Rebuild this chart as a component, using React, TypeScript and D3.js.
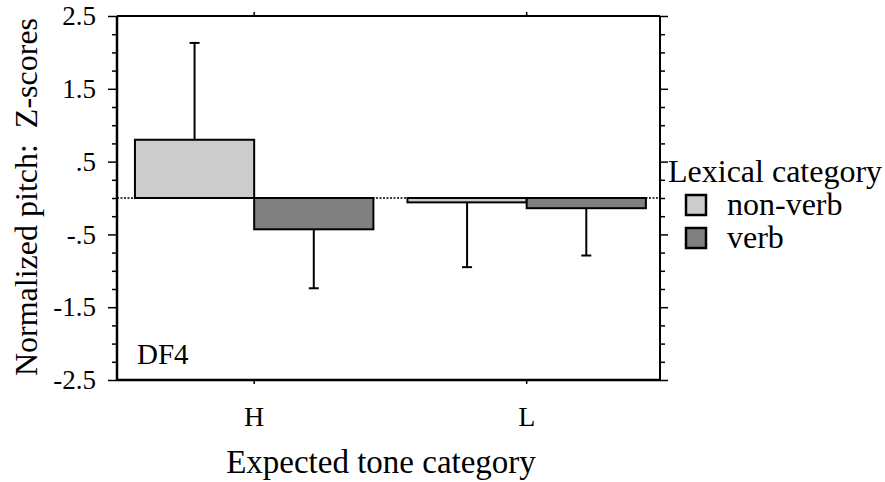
import { useEffect, useRef } from "react";
import * as d3 from "d3";

// chart data
const categories = ["H", "L"];
const seriesNames = ["non-verb", "verb"];
const nonVerbMeans = [0.8, -0.06];
const verbMeans = [-0.43, -0.14];
const nonVerbErr = [1.33, 0.89];
const verbErr = [0.81, 0.65];
const yTickLabels = ["2.5", "1.5", ".5", "-.5", "-1.5", "-2.5"];
const yTickValues = [2.5, 1.5, 0.5, -0.5, -1.5, -2.5];

const seriesColors = ["#cccccc", "#808080"];

const App = () => {
    const ref = useRef<SVGSVGElement | null>(null);

    useEffect(() => {
        const svg = d3.select(ref.current);
        svg.selectAll("*").remove();

        const margin = { top: 16, right: 225, bottom: 102, left: 117 };
        const graphWidth = 885;
        const graphHeight = 482;
        const width = graphWidth - margin.left - margin.right;
        const height = graphHeight - margin.top - margin.bottom;
        const font = "Liberation Serif, Times New Roman, serif";

        const g = svg.append("g").attr("transform", `translate(${margin.left},${margin.top})`);

        // scales
        const x = d3.scaleBand<string>()
            .domain(categories)
            .range([0, width])
            .paddingInner(0.125)
            .paddingOuter(0.0588)
            .align(0.56);

        const xInner = d3.scaleBand<string>()
            .domain(seriesNames)
            .range([0, x.bandwidth()])
            .padding(0);

        const y = d3.scaleLinear().domain([-2.5, 2.5]).range([height, 0]);

        const rows = categories.flatMap((c, i) => [
            { cat: c, series: seriesNames[0], mean: nonVerbMeans[i], err: nonVerbErr[i], color: seriesColors[0] },
            { cat: c, series: seriesNames[1], mean: verbMeans[i], err: verbErr[i], color: seriesColors[1] },
        ]);

        // bars
        g.selectAll(".bar")
            .data(rows)
            .enter().append("rect")
            .attr("class", "bar")
            .attr("x", d => (x(d.cat) as number) + (xInner(d.series) as number))
            .attr("y", d => y(Math.max(0, d.mean)))
            .attr("width", xInner.bandwidth())
            .attr("height", d => Math.abs(y(d.mean) - y(0)))
            .attr("fill", d => d.color)
            .attr("stroke", "#000")
            .attr("stroke-width", 2);

        // error bars (one-sided, away from zero)
        const errEnd = (d: any) => d.mean >= 0 ? d.mean + d.err : d.mean - d.err;
        const cx = (d: any) => (x(d.cat) as number) + (xInner(d.series) as number) + xInner.bandwidth() / 2;

        g.selectAll(".err")
            .data(rows)
            .enter().append("line")
            .attr("x1", cx)
            .attr("x2", cx)
            .attr("y1", d => y(d.mean))
            .attr("y2", d => y(errEnd(d)))
            .attr("stroke", "#000")
            .attr("stroke-width", 2);

        g.selectAll(".cap")
            .data(rows)
            .enter().append("line")
            .attr("x1", d => cx(d) - 5)
            .attr("x2", d => cx(d) + 5)
            .attr("y1", d => y(errEnd(d)))
            .attr("y2", d => y(errEnd(d)))
            .attr("stroke", "#000")
            .attr("stroke-width", 2);

        // zero line, dotted
        g.append("line")
            .attr("x1", 0)
            .attr("x2", width)
            .attr("y1", y(0))
            .attr("y2", y(0))
            .attr("stroke", "#000")
            .attr("stroke-width", 1.5)
            .attr("stroke-dasharray", "2,1.5");

        // frame
        g.append("line").attr("x1", 0).attr("x2", width).attr("y1", 0).attr("y2", 0)
            .attr("stroke", "#000").attr("stroke-width", 2);
        g.append("line").attr("x1", width).attr("x2", width).attr("y1", 0).attr("y2", height)
            .attr("stroke", "#000").attr("stroke-width", 2);
        g.append("line").attr("x1", 0).attr("x2", width + 1).attr("y1", height).attr("y2", height)
            .attr("stroke", "#000").attr("stroke-width", 2.5);
        g.append("line").attr("x1", 0).attr("x2", 0).attr("y1", 0).attr("y2", height + 1)
            .attr("stroke", "#000").attr("stroke-width", 2.5);

        // minor y ticks every .25
        const minor = d3.range(-2.5, 2.5001, 0.25).filter(v => !yTickValues.some(t => Math.abs(t - v) < 1e-6));

        const leftMinor = d3.axisLeft(y).tickValues(minor).tickSize(5).tickFormat(() => "");
        const leftMajor = d3.axisLeft(y).tickValues(yTickValues).tickSize(9).tickPadding(12)
            .tickFormat((_, i) => yTickLabels[i]);
        const rightMinor = d3.axisRight(y).tickValues(minor).tickSize(5).tickFormat(() => "");
        const rightMajor = d3.axisRight(y).tickValues(yTickValues).tickSize(8).tickFormat(() => "");

        const styleAxis = (sel: any) => {
            sel.attr("font-family", font);
            sel.select(".domain").remove();
            sel.selectAll("line").attr("stroke", "#000").attr("stroke-width", 1.5);
            sel.selectAll("text").attr("font-family", font).attr("font-size", 27).attr("fill", "#000");
        };

        g.append("g").call(leftMinor).call(styleAxis);
        g.append("g").call(leftMajor).call(styleAxis);
        g.append("g").attr("transform", `translate(${width},0)`).call(rightMinor).call(styleAxis);
        g.append("g").attr("transform", `translate(${width},0)`).call(rightMajor).call(styleAxis);

        // x ticks top and bottom
        const xBottom = d3.axisBottom(x).tickSize(4).tickPadding(22);
        const xTop = d3.axisTop(x).tickSize(4).tickFormat(() => "");
        g.append("g").attr("transform", `translate(0,${height})`).call(xBottom).call(styleAxis)
            .selectAll("text").attr("font-size", 28);
        g.append("g").call(xTop).call(styleAxis);

        // axis titles
        svg.append("text")
            .attr("x", 381)
            .attr("y", 473)
            .attr("text-anchor", "middle")
            .attr("font-family", font)
            .attr("font-size", 33)
            .text("Expected tone category");

        svg.append("text")
            .attr("transform", "translate(37,197) rotate(-90)")
            .attr("text-anchor", "middle")
            .attr("font-family", font)
            .attr("font-size", 32)
            .attr("xml:space", "preserve")
            .text("Normalized pitch:  Z-scores");

        // panel label
        svg.append("text")
            .attr("x", 137)
            .attr("y", 364)
            .attr("font-family", font)
            .attr("font-size", 29)
            .text("DF4");

        // legend
        svg.append("text")
            .attr("x", 668)
            .attr("y", 182)
            .attr("font-family", font)
            .attr("font-size", 32)
            .text("Lexical category");

        const legend = svg.selectAll(".legend")
            .data(seriesNames)
            .enter().append("g")
            .attr("transform", (_, i) => `translate(686,${195 + i * 33})`);

        legend.append("rect")
            .attr("width", 20)
            .attr("height", 20)
            .attr("fill", (_, i) => seriesColors[i])
            .attr("stroke", "#000")
            .attr("stroke-width", 2.5);

        legend.append("text")
            .attr("x", 41)
            .attr("y", 20)
            .attr("font-family", font)
            .attr("font-size", 32)
            .text(d => d);
    }, []);

    return (
        <svg
            ref={ref}
            width={885}
            height={482}
            style={{ position: "absolute", left: 0, top: 0, background: "#fff" }}
        />
    );
};

export default App;
